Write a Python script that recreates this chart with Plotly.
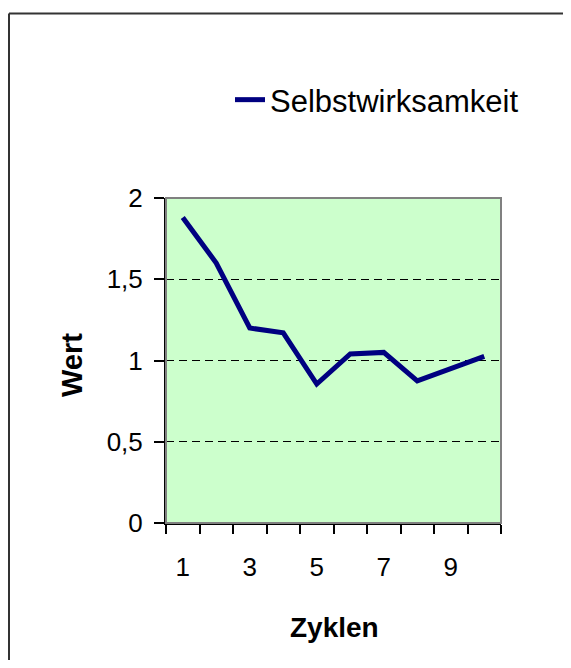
import plotly.graph_objects as go

cycles = [1, 2, 3, 4, 5, 6, 7, 8, 9, 10]
selbstwirksamkeit = [1.88, 1.60, 1.20, 1.17, 0.855, 1.04, 1.05, 0.875, 0.95, 1.025]
x_tick_labels = ["1", "3", "5", "7", "9"]
x_tick_vals = [1, 3, 5, 7, 9]
x_boundaries = [0.5, 1.5, 2.5, 3.5, 4.5, 5.5, 6.5, 7.5, 8.5, 9.5, 10.5]
y_tick_vals = [0, 0.5, 1, 1.5, 2]

OFF = 8  # default page body margin
W, H = 571 - 2 * OFF, 668 - 2 * OFF
# plot area in window pixels: x 166..501, y 198..523
L = 166 - OFF
T = 198 - OFF
R = W - (501 - OFF)
B = H - (523 - OFF)
pw, ph = W - L - R, H - T - B

def px_x(px):
    return (px - OFF - L) / pw

def px_y(py):
    return (H - B - (py - OFF)) / ph

FONT = "Liberation Sans, Arial, sans-serif"

fig = go.Figure()
fig.add_trace(go.Scatter(
    x=cycles, y=selbstwirksamkeit, mode="lines", name="Selbstwirksamkeit",
    line=dict(color="#000080", width=5),
))

fig.update_layout(
    width=W, height=H,
    margin=dict(l=L, r=R, t=T, b=B, pad=0),
    paper_bgcolor="white",
    plot_bgcolor="#CCFFCC",
    separators=",.",
    font=dict(family=FONT, size=26, color="black"),
    showlegend=True,
    legend=dict(
        x=px_x(230), y=px_y(100), xanchor="left", yanchor="middle",
        font=dict(size=31, family=FONT, color="black"),
        bgcolor="rgba(0,0,0,0)", borderwidth=0,
    ),
    xaxis=dict(
        range=[0.5, 10.5], tickmode="array", tickvals=x_tick_vals, ticktext=x_tick_labels,
        ticks="", showgrid=False, zeroline=False, showline=True, linecolor="black", linewidth=2,
        ticklabelstandoff=20,
        minor=dict(tickmode="array", tickvals=x_boundaries, ticks="outside", ticklen=9,
                   tickcolor="black", tickwidth=2, showgrid=False),
        tickfont=dict(size=26),
    ),
    yaxis=dict(
        range=[0, 2], tickmode="array", tickvals=y_tick_vals,
        ticks="outside", ticklen=10, tickcolor="black", tickwidth=2,
        showgrid=True, gridcolor="black", gridwidth=1, griddash="8px,5px",
        zeroline=False, showline=True, linecolor="black", linewidth=2,
        ticklabelstandoff=6,
        tickfont=dict(size=26),
    ),
    shapes=[
        dict(type="rect", xref="paper", yref="paper", x0=0, x1=1, y0=0, y1=1,
             line=dict(color="#808080", width=2), layer="above"),
        dict(type="line", xref="paper", yref="paper", x0=px_x(9), x1=px_x(W + 40),
             y0=px_y(13.5), y1=px_y(13.5), line=dict(color="#333333", width=2)),
        dict(type="line", xref="paper", yref="paper", x0=px_x(9), x1=px_x(9),
             y0=px_y(13.5), y1=px_y(H + 40), line=dict(color="#333333", width=2)),
    ],
    annotations=[
        dict(text="<b>Wert</b>", xref="paper", yref="paper", x=px_x(71.5), y=px_y(364.5),
             xanchor="center", yanchor="middle", textangle=-90, showarrow=False,
             font=dict(size=29, family=FONT, color="black")),
        dict(text="<b>Zyklen</b>", xref="paper", yref="paper", x=px_x(334), y=px_y(627),
             xanchor="center", yanchor="middle", showarrow=False,
             font=dict(size=28, family=FONT, color="black")),
    ],
)

fig.write_html("out.html")
